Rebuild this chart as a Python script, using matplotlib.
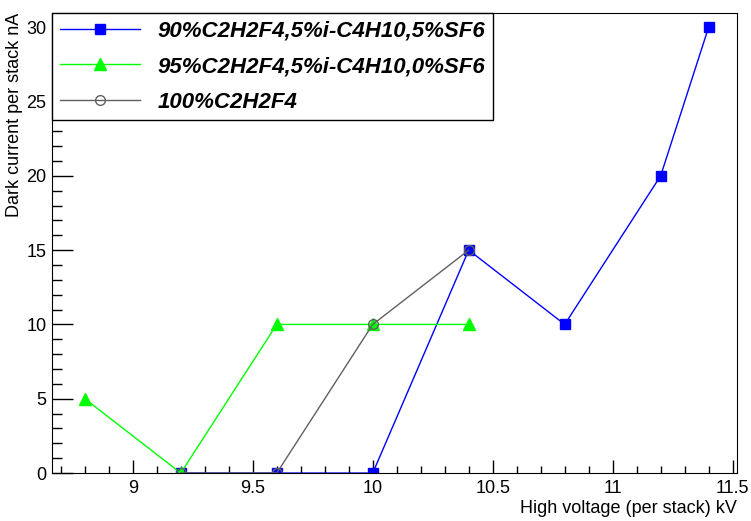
import matplotlib.pyplot as plt
from matplotlib.ticker import MultipleLocator

# data
x_sf6 = [9.2, 9.6, 10.0, 10.4, 10.8, 11.2, 11.4]
y_sf6 = [0, 0, 0, 15, 10, 20, 30]
x_nosf6 = [8.8, 9.2, 9.6, 10.0, 10.4]
y_nosf6 = [5, 0, 10, 10, 10]
x_pure = [9.2, 9.6, 10.0, 10.4]
y_pure = [0, 0, 10, 15]

labels = ['90%C2H2F4,5%i-C4H10,5%SF6',
          '95%C2H2F4,5%i-C4H10,0%SF6',
          '100%C2H2F4']
xticks = [9, 9.5, 10, 10.5, 11, 11.5]
xticklabels = ['9', '9.5', '10', '10.5', '11', '11.5']

plt.rcParams['font.family'] = ['Liberation Sans', 'DejaVu Sans']

fig = plt.figure(figsize=(7.51, 5.21), dpi=100)
ax = fig.add_axes([0.069, 0.092, 0.912, 0.883])

ax.plot(x_sf6, y_sf6, '-', color='#0000ff', lw=1, marker='s', ms=7,
        label=labels[0])
ax.plot(x_nosf6, y_nosf6, '-', color='#00ff00', lw=1, marker='^', ms=8,
        label=labels[1])
ax.plot(x_pure, y_pure, '-', color='#606060', lw=1, marker='o', ms=7,
        mfc='none', mew=1, label=labels[2])

ax.set_xlim(8.6625, 11.517)
ax.set_ylim(0, 30.95)

ax.yaxis.set_major_locator(MultipleLocator(5))
ax.yaxis.set_minor_locator(MultipleLocator(1))
ax.xaxis.set_minor_locator(MultipleLocator(0.1))
ax.set_xticks(xticks)
ax.set_xticklabels(xticklabels)

# тики внутрь, как в ROOT, только снизу и слева
ax.tick_params(axis='x', which='major', direction='in', length=9.5, width=1,
               labelsize=13, pad=5, top=False)
ax.tick_params(axis='x', which='minor', direction='in', length=5, width=1,
               top=False)
ax.tick_params(axis='y', which='major', direction='in', length=15, width=1,
               labelsize=13, pad=4, right=False)
ax.tick_params(axis='y', which='minor', direction='in', length=7.5, width=1,
               right=False)

ax.set_xlabel('High voltage (per stack) kV', fontsize=13, loc='right',
              labelpad=2)
ax.set_ylabel('Dark current per stack nA', fontsize=13, loc='top',
              labelpad=2)

leg = ax.legend(loc='upper left', bbox_to_anchor=(0, 1), borderaxespad=0,
                fancybox=False, edgecolor='black', framealpha=1,
                prop={'weight': 'bold', 'style': 'italic', 'size': 16},
                handlelength=3.6, handletextpad=0.8, borderpad=0.35,
                labelspacing=0.65)
leg.get_frame().set_linewidth(1)

fig.savefig('out.png', dpi=100)
